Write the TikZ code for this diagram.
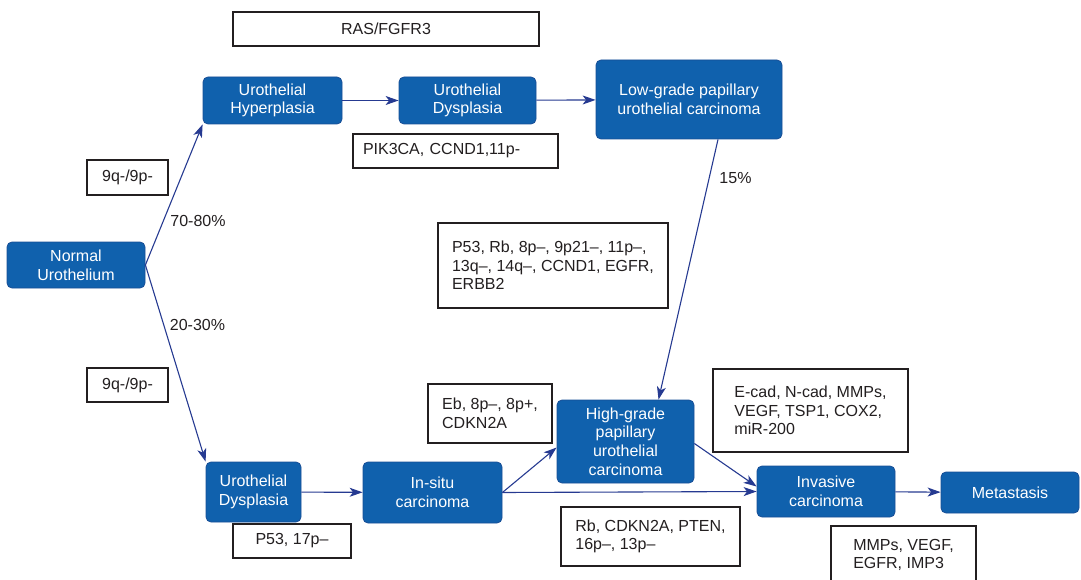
\documentclass[tikz,border=0pt]{standalone}
\usepackage{fontspec}
\setmainfont{Liberation Sans}
\usetikzlibrary{arrows.meta}
\definecolor{stagefill}{RGB}{16,97,173}
\definecolor{stageline}{RGB}{24,78,150}
\definecolor{arrowblue}{RGB}{38,58,145}
\definecolor{inkgray}{RGB}{35,31,32}
\begin{document}
\begin{tikzpicture}[
    x=1pt, y=-1pt,
    every node/.style={font=\fontsize{16}{18.7}\selectfont, text=inkgray},
    stage/.style={draw=stageline, line width=0.8pt, fill=stagefill, rounded corners=5pt,
      text=white, align=center, inner sep=0pt},
    marker/.style={draw=inkgray, line width=1.2pt, fill=white, align=left, inner sep=0pt},
    rate/.style={inner sep=0pt},
    arr/.style={-{Stealth[length=13pt, width=9pt, inset=3.5pt]}, arrowblue, line width=1.1pt}
  ]
  \useasboundingbox (0,0) rectangle (1081,580);

  \node[stage, minimum width=138pt, minimum height=46pt] (normal) at (76,265) {Normal\\Urothelium};
  \node[stage, minimum width=139pt, minimum height=47pt] (hyper) at (272.5,100.5) {Urothelial\\Hyperplasia};
  \node[stage, minimum width=137pt, minimum height=47pt] (dysA) at (467.5,100.5) {Urothelial\\Dysplasia};
  \node[stage, minimum width=186pt, minimum height=79pt] (lowg) at (689,99.5) {Low-grade papillary\\urothelial carcinoma};
  \node[stage, minimum width=95pt, minimum height=60pt] (dysB) at (253.5,492) {Urothelial\\Dysplasia};
  \node[stage, minimum width=139pt, minimum height=61pt] (insitu) at (432.5,492.5) {In-situ\\carcinoma};
  \node[stage, minimum width=137pt, minimum height=83pt] (highg) at (625.5,441.5) {High-grade\\papillary\\urothelial\\carcinoma};
  \node[stage, minimum width=138pt, minimum height=51pt] (invasive) at (826,491.5) {Invasive\\carcinoma};
  \node[stage, minimum width=138pt, minimum height=41pt] (meta) at (1010,492.5) {Metastasis};

  \node[marker, align=center, minimum width=306pt, minimum height=34pt] (ras) at (386,29) {RAS/FGFR3};
  \node[marker, text width=185pt, inner xsep=10pt, minimum height=34pt] (pik) at (455.5,151) {PIK3CA, CCND1,11p-};
  \node[marker, align=center, minimum width=81pt, minimum height=35pt] (chrA) at (127.5,177.5) {9q-/9p-};
  \node[marker, align=center, minimum width=81pt, minimum height=34pt] (chrB) at (127.5,385) {9q-/9p-};
  \node[marker, minimum width=230pt, minimum height=85pt] (pgen) at (553,265.5)
    {P53, Rb, 8p--, 9p21--, 11p--,\\13q--, 14q--, CCND1, EGFR,\\ERBB2};
  \node[marker, minimum width=124pt, minimum height=59pt] (ebox) at (490,413.5) {Eb, 8p--, 8p+,\\CDKN2A};
  \node[marker, minimum width=195pt, minimum height=83pt] (ecad) at (810.5,410.5)
    {E-cad, N-cad, MMPs,\\VEGF, TSP1, COX2,\\miR-200};
  \node[marker, minimum width=179pt, minimum height=59pt] (rbox) at (650.5,536.5) {Rb, CDKN2A, PTEN,\\16p--, 13p--};
  \node[marker, align=center, minimum width=118pt, minimum height=34pt] (pfs) at (292,541) {P53, 17p--};
  \node[marker, minimum width=145pt, minimum height=58pt] (mmps) at (903.5,555) {MMPs, VEGF,\\EGFR, IMP3};

  \node[rate] (r7080) at (198,221) {70-80\%};
  \node[rate] (r2030) at (197.5,325) {20-30\%};
  \node[rate] (r15) at (735.5,178) {15\%};

  \draw[arr] (normal.east) -- (hyper.south west);
  \draw[arr] (normal.east) -- (dysB.north west);
  \foreach \a/\b in {hyper/dysA, dysA/lowg, dysB/insitu, invasive/meta}
    \draw[arr] (\a) -- (\b);
  \draw[arr] ([xshift=29pt]lowg.south) -- ([xshift=33pt]highg.north);
  \draw[arr] (insitu.east) -- ([yshift=-6pt]highg.west);
  \draw[arr] (insitu.east) -- (invasive.west);
  \draw[arr] ([yshift=-2pt]highg.east) -- ([yshift=5pt]invasive.west);
\end{tikzpicture}
\end{document}
